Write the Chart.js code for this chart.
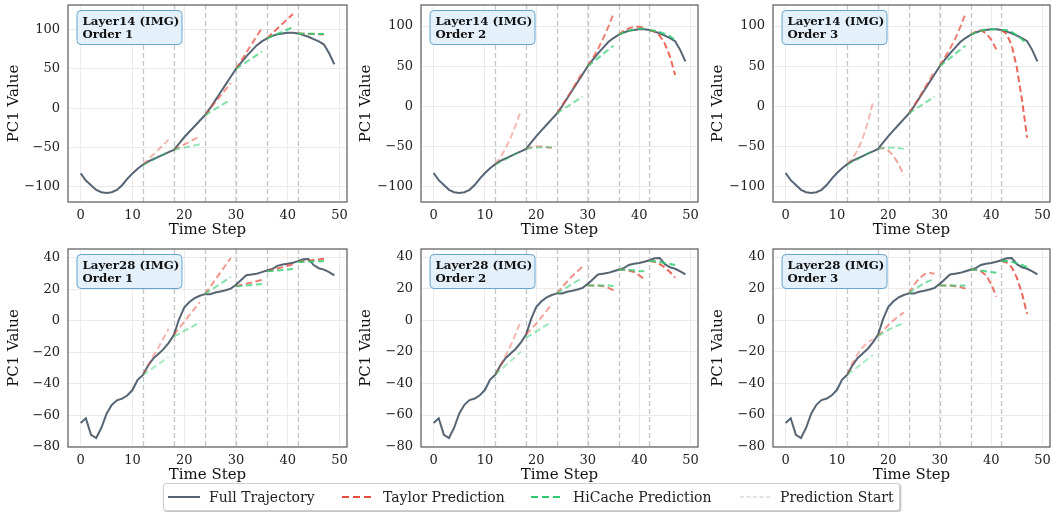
<!DOCTYPE html>
<html>
<head>
<meta charset="utf-8">
<script src="https://cdn.jsdelivr.net/npm/chart.js@4.4.0/dist/chart.umd.min.js"></script>
<style>
  body { margin: 0; background: #fff; }
  #wrap { position: relative; width: 1052px; height: 512px; overflow: hidden; background: #fff; }
  #wrap canvas { position: absolute; }
  #legend {
    position: absolute; left: 163px; top: 483px; width: 735px; height: 26px;
    border: 1px solid #cfcfcf; border-radius: 3px; background: #fff;
    box-shadow: 1px 1px 2px rgba(0,0,0,0.3);
    font-family: 'DejaVu Serif', serif; font-size: 14px; color: #222;
  }
  #legend span { position: absolute; top: 0; line-height: 26px; white-space: nowrap; }
  #legend svg { position: absolute; top: 8px; }
</style>
</head>
<body>
<div id="wrap">
  <div id="legend">
    <svg style="left:4px" width="32" height="10"><line x1="0" y1="5" x2="32" y2="5" stroke="rgba(44,62,80,0.8)" stroke-width="2"/></svg>
    <span style="left:45px">Full Trajectory</span>
    <svg style="left:178px" width="32" height="10"><line x1="0" y1="5" x2="32" y2="5" stroke="#e74c3c" stroke-width="2" stroke-dasharray="7 4"/></svg>
    <span style="left:219px">Taylor Prediction</span>
    <svg style="left:367px" width="32" height="10"><line x1="0" y1="5" x2="32" y2="5" stroke="#2ecc71" stroke-width="2" stroke-dasharray="7 4"/></svg>
    <span style="left:409px">HiCache Prediction</span>
    <svg style="left:576px" width="30" height="10"><line x1="0" y1="5" x2="30" y2="5" stroke="rgba(149,165,166,0.6)" stroke-width="1.2" stroke-dasharray="4 2.5"/></svg>
    <span style="left:616px">Prediction Start</span>
  </div>
</div>
<script>
// time steps shown on every panel
const steps = [0,1,2,3,4,5,6,7,8,9,10,11,12,13,14,15,16,17,18,19,20,21,22,23,24,
               25,26,27,28,29,30,31,32,33,34,35,36,37,38,39,40,41,42,43,44,45,46,47,48,49];
// where each prediction segment starts (6 points each)
const starts = [12, 18, 24, 30, 36, 42];
const xTicks = [0, 10, 20, 30, 40, 50];
const yTicksL14 = [-100, -50, 0, 50, 100];
const yTicksL28 = [-80, -60, -40, -20, 0, 20, 40];

// full PC1 trajectories
const trajL14 = [-83,-92,-98,-104,-107,-108,-107,-104,-98,-90,-83,-77,-72,-68,-65,-62,-59,-56,-53,-45,
                 -37,-30,-23,-16,-9,0,10,20,30,40,50,58,66,73,80,85,89,92,94,95,
                 96,96,95,93,91,88,85,81,70,56];
const trajL28 = [-65,-62,-72.5,-74.5,-68,-59,-53.5,-50.5,-49.5,-47.5,-44,-37.5,-34.5,-28.5,-24,-21,-18,-14,-9,1,
                 8.5,12,14.5,16,17,17,18,18.7,19.5,20.5,23,26,29,29.5,30,31,32,33,35,35.8,
                 36.3,37,38,39.2,39.4,35.5,33.5,32.6,31,29];

// Layer14 predictions
const taylorL14o1 = [[-72,-65.6,-59.2,-52.8,-46.4,-40],[-53,-49.6,-46.2,-42.8,-39.4,-36],[-9,-0.8,7.4,15.6,23.8,32],
                     [50,60.4,70.8,81.2,91.6,102],[89,95.2,101.4,107.6,113.8,120],[95,94.8,94.6,94.4,94.2,94]];
const hicacheL14o1 = [[-73,-69.4,-65.8,-62.2,-58.6,-55],[-53,-51.6,-50.2,-48.8,-47.4,-46],[-9,-5,-1,3,7,11],
                      [50,54.4,58.8,63.2,67.6,72],[89,91.8,94.6,97.4,100.2,103],[95,94.9,94.8,94.7,94.6,94.5]];
const taylorL14o2 = [[-72,-63.5,-52.5,-39,-23,-5],[-53,-51,-50,-50,-51,-52],[-9,1,11,21,32,43],
                     [50,60,71.5,84.5,99,115],[89,94,97,99,99,98],[95,93,88,78,62,39]];
const hicacheL14o2 = [[-73,-69.5,-66,-62.5,-59,-56],[-53,-52,-51.5,-51,-51,-51],[-9,-4.5,-0.5,4,8,12],
                      [50,55,60,65.5,70.5,75.5],[89,92,94,95.5,96.5,97],[95,94,92.5,90,87,83]];
const taylorL14o3 = [[-72,-65,-55,-40,-20,5],[-53,-52,-55,-62,-72,-86],[-9,1,11,22,33,44],
                     [50,61,72,84,99,115],[89,93,94.5,91,83,71],[95,90,76,48,8,-39]];
const hicacheL14o3 = [[-73,-69.5,-66,-62,-58.5,-55],[-53,-52,-51.5,-51.5,-52,-53],[-9,-4.5,-0.5,4,8,12],
                      [50,55,60,65.5,70.5,75.5],[89,92,94,95.5,96,96],[95,95,92.5,88.5,83.5,77.5]];

// Layer28 predictions
const taylorL28o1 = [[-34.5,-28.5,-22.5,-17,-11,-5],[-9,-4.8,-0.6,3.6,7.8,12],[17,21.6,26.2,30.8,35.4,40],
                     [22,22.8,23.6,24.4,25.2,26],[31.5,32.4,33.3,34.2,35.1,36],[37.5,37.9,38.3,38.7,39.1,39.5]];
const hicacheL28o1 = [[-34.5,-32.2,-29.9,-27.6,-25.3,-23],[-10,-8.2,-6.4,-4.6,-2.8,-1],[17,19.2,21.4,23.6,25.8,28],
                      [22,22.2,22.5,22.8,23.1,23.4],[31.5,31.8,32.1,32.4,32.7,33],[37.5,37.6,37.7,37.8,37.9,38]];
const taylorL28o2 = [[-34.5,-29,-22.5,-16,-8.5,0],[-9,-5.5,-2,2,6,10.5],[17,21,24.5,28,31,34],
                     [22,22,22,21.5,20.5,19],[32,32,31.5,30.5,28.5,26],[37.5,37,35.5,33.5,30.5,27]];
const hicacheL28o2 = [[-34.5,-31.6,-28.7,-25.8,-22.9,-20],[-11,-9,-7,-5,-3,-1],[17,19,21,23,25,27],
                      [22,22,22,22,22,21.7],[32,32,31.8,31.5,31.2,31],[37.5,37.3,36.8,36.2,35.6,35]];
const taylorL28o3 = [[-34.5,-27,-21.5,-17,-14,-12],[-10,-6.5,-3,0,2.5,5],[17,22.5,26.5,29,30,29.5],
                     [22,22,22,21.5,21,20],[32,32,31,28.5,23,15],[37.5,36.5,33.5,27,17,4]];
const hicacheL28o3 = [[-34.5,-32,-29.5,-27,-24.5,-22],[-10,-8,-6,-4.5,-3,-2],[17,19.5,21.5,23.5,25,26],
                      [22,22,22,22,22,22],[32,32,31.5,31,30.5,30],[37.5,37.5,37,36,35,33.5]];

const panels = [
    { layer: 'Layer14 (IMG)', order: 'Order 1', traj: trajL14, taylor: taylorL14o1, hicache: hicacheL14o1, yTicks: yTicksL14 },
    { layer: 'Layer14 (IMG)', order: 'Order 2', traj: trajL14, taylor: taylorL14o2, hicache: hicacheL14o2, yTicks: yTicksL14 },
    { layer: 'Layer14 (IMG)', order: 'Order 3', traj: trajL14, taylor: taylorL14o3, hicache: hicacheL14o3, yTicks: yTicksL14 },
    { layer: 'Layer28 (IMG)', order: 'Order 1', traj: trajL28, taylor: taylorL28o1, hicache: hicacheL28o1, yTicks: yTicksL28 },
    { layer: 'Layer28 (IMG)', order: 'Order 2', traj: trajL28, taylor: taylorL28o2, hicache: hicacheL28o2, yTicks: yTicksL28 },
    { layer: 'Layer28 (IMG)', order: 'Order 3', traj: trajL28, taylor: taylorL28o3, hicache: hicacheL28o3, yTicks: yTicksL28 }
];

// layout of the 2x3 grid
const colLeft = [0, 352, 704];
const yAxisWidth = [68, 69, 69];
const padRight = [1, 2, 2];
const rowTop = [0, 245];
const padTop = [5, 4];
const segAlpha = [0.4, 0.5, 0.6, 0.7, 0.8, 0.85];
const FONT = "'DejaVu Serif', serif";

// matplotlib-like 5% margins
function padRange(values) {
    const lo = Math.min(...values), hi = Math.max(...values);
    const m = (hi - lo) * 0.05;
    return [lo - m, hi + m];
}

function fmtTick(v) {
    return v < 0 ? '\u2212' + Math.abs(v) : String(v);
}

function segDatasets(segs, rgb, ord) {
    return segs.map((vals, k) => ({
        data: vals.map((v, j) => ({ x: starts[k] + j, y: v })),
        borderColor: `rgba(${rgb},${segAlpha[k]})`,
        borderWidth: 2,
        borderDash: [6.5, 3.5],
        pointRadius: 0,
        tension: 0,
        order: ord
    }));
}

// no label overflow padding, keep the plot box where we put it
function noPad(s) {
    s.paddingTop = 0;
    s.paddingBottom = 0;
    s.paddingLeft = 0;
    s.paddingRight = 0;
}

// dashed "prediction start" lines, behind the data
const startLinesPlugin = {
    id: 'startLines',
    beforeDatasetsDraw(chart) {
        const { ctx, chartArea, scales: { x } } = chart;
        ctx.save();
        ctx.strokeStyle = 'rgba(149,165,166,0.6)';
        ctx.lineWidth = 1.3;
        ctx.setLineDash([5, 3]);
        starts.forEach(s => {
            const px = Math.round(x.getPixelForValue(s)) + 0.5;
            ctx.beginPath();
            ctx.moveTo(px, chartArea.top);
            ctx.lineTo(px, chartArea.bottom);
            ctx.stroke();
        });
        ctx.restore();
    }
};

// frame + info box
const frameBoxPlugin = {
    id: 'frameBox',
    afterDatasetsDraw(chart, args, opts) {
        const { ctx, chartArea: a } = chart;
        ctx.save();
        // info box
        const bx = a.left + 9, by = a.top + 5.5, bw = 105, bh = 34;
        ctx.beginPath();
        ctx.roundRect(bx, by, bw, bh, 4);
        ctx.fillStyle = '#e4f1fb';
        ctx.fill();
        ctx.strokeStyle = '#65a5cf';
        ctx.lineWidth = 1;
        ctx.stroke();
        ctx.fillStyle = '#111';
        ctx.font = `bold 11.8px ${FONT}`;
        ctx.textAlign = 'left';
        ctx.textBaseline = 'alphabetic';
        ctx.fillText(opts.layer, bx + 5.5, by + 14.5);
        ctx.fillText(opts.order, bx + 5.5, by + 27.2);
        // spines
        ctx.strokeStyle = '#666';
        ctx.lineWidth = 1.3;
        ctx.strokeRect(a.left, a.top, a.right - a.left, a.bottom - a.top);
        ctx.restore();
    }
};

const xRange = padRange(steps);
const wrap = document.getElementById('wrap');

panels.forEach((p, i) => {
    const col = i % 3, row = Math.floor(i / 3);
    const canvas = document.createElement('canvas');
    canvas.width = 348;
    canvas.height = 240;
    canvas.style.left = colLeft[col] + 'px';
    canvas.style.top = rowTop[row] + 'px';
    wrap.insertBefore(canvas, wrap.firstChild);

    const yRange = padRange([...p.traj, ...p.taylor.flat(), ...p.hicache.flat()]);

    new Chart(canvas.getContext('2d'), {
        type: 'line',
        data: {
            datasets: [
                {
                    data: p.traj.map((v, j) => ({ x: steps[j], y: v })),
                    borderColor: 'rgba(44,62,80,0.8)',
                    borderWidth: 2,
                    pointRadius: 0,
                    tension: 0,
                    order: 2
                },
                ...segDatasets(p.taylor, '231,76,60', 1),
                ...segDatasets(p.hicache, '46,204,113', 0)
            ]
        },
        options: {
            responsive: false,
            animation: false,
            devicePixelRatio: 1,
            layout: { padding: { top: padTop[row], right: padRight[col], left: 0, bottom: 0 } },
            plugins: {
                legend: { display: false },
                tooltip: { enabled: false },
                frameBox: { layer: p.layer, order: p.order }
            },
            scales: {
                x: {
                    type: 'linear',
                    min: xRange[0],
                    max: xRange[1],
                    afterBuildTicks: s => { s.ticks = xTicks.map(v => ({ value: v })); },
                    afterFit: s => { s.height = 38; noPad(s); },
                    grid: { color: '#ebebeb', lineWidth: 1, tickColor: 'rgba(0,0,0,0)', tickLength: 4 },
                    border: { display: false },
                    ticks: { font: { family: FONT, size: 13 }, color: '#222', padding: 2, maxRotation: 0, autoSkip: false, callback: fmtTick },
                    title: { display: true, text: 'Time Step', font: { family: FONT, size: 15, lineHeight: 1.2 }, color: '#111', padding: { top: 0, bottom: 1 } }
                },
                y: {
                    type: 'linear',
                    min: yRange[0],
                    max: yRange[1],
                    afterBuildTicks: s => { s.ticks = p.yTicks.map(v => ({ value: v })); },
                    afterFit: s => { s.width = yAxisWidth[col]; noPad(s); },
                    grid: { color: '#ebebeb', lineWidth: 1, tickColor: 'rgba(0,0,0,0)', tickLength: 4 },
                    border: { display: false },
                    ticks: { font: { family: FONT, size: 13 }, color: '#222', padding: 4, autoSkip: false, callback: fmtTick },
                    title: { display: true, text: 'PC1 Value', font: { family: FONT, size: 15, lineHeight: 1.2 }, color: '#111', padding: { top: 5, bottom: 0 } }
                }
            }
        },
        plugins: [startLinesPlugin, frameBoxPlugin]
    });
});
</script>
</body>
</html>
